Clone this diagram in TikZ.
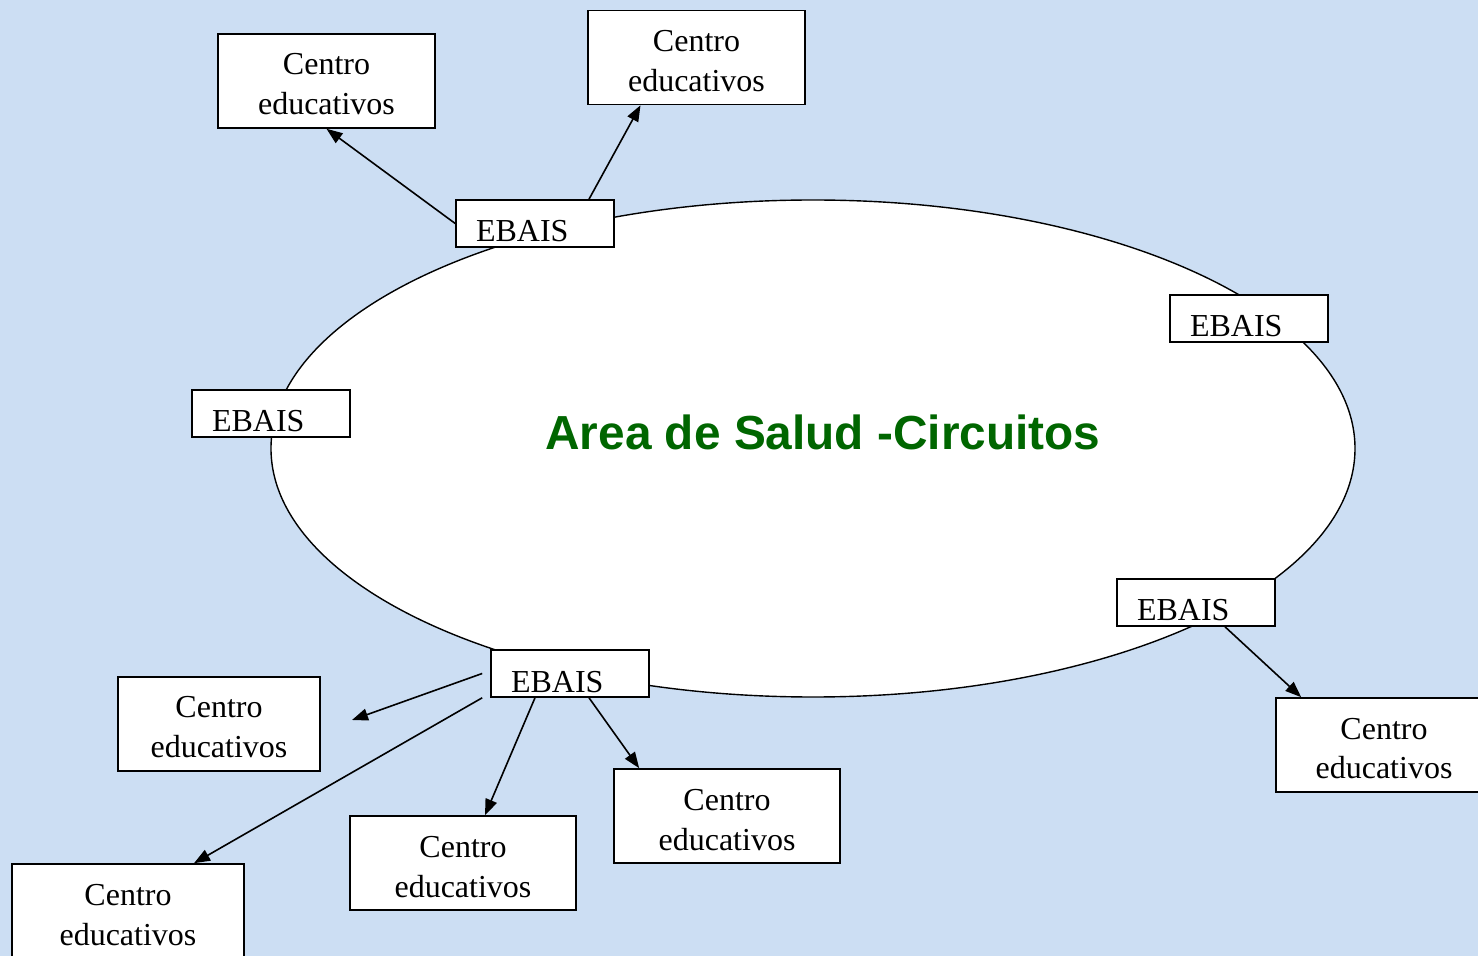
\documentclass[tikz,border=0pt]{standalone}
\usepackage{fontspec}
\setmainfont{Liberation Serif}
\newfontfamily\titlefont{Liberation Sans}
\usetikzlibrary{arrows.meta}
\definecolor{bgblue}{RGB}{204,222,243}
\definecolor{areagreen}{RGB}{0,102,0}

\tikzset{
    centro/.style={draw, thick, fill=white, text width=#1, align=center,
        inner xsep=0pt, inner ysep=0pt, text height=20.5pt, text depth=26.5pt,
        font=\fontsize{16}{20}\selectfont},
    ebais/.style={draw, thick, fill=white, text width=59pt, align=left,
        inner xsep=10pt, inner ysep=0pt, text height=21pt, text depth=2.5pt,
        font=\fontsize{16}{19.5}\selectfont},
    arr/.style={thick, -{Triangle[length=8pt,width=6pt]}},
}

\begin{document}
\begin{tikzpicture}[x=0.5pt, y=-0.5pt]
    \useasboundingbox (0,0) rectangle (1478,956);
    \clip (0,0) rectangle (1478,956);
    \fill[bgblue] (0,0) rectangle (1478,956);

    % area
    \draw[fill=white, line width=0.7pt] (813,448.5) ellipse [x radius=271pt, y radius=124.25pt];
    \node[text=areagreen, font=\titlefont\bfseries\fontsize{23.9}{28}\selectfont] (area) at (823,432) {Area de Salud -Circuitos};

    % EBAIS
    \node[ebais] (ebN)  at (535,223.5)  {EBAIS};
    \node[ebais] (ebNE) at (1249,318.5) {EBAIS};
    \node[ebais] (ebW)  at (271,413.5)  {EBAIS};
    \node[ebais] (ebSE) at (1196,602.5) {EBAIS};
    \node[ebais] (ebS)  at (570,673.5)  {EBAIS};

    % centros
    \node[centro=108.5pt] (ceTL) at (326.5,81)   {Centro\\educativos};
    \node[centro=108.5pt] (ceT)  at (696.5,57.5) {Centro\\educativos};
    \node[centro=101pt]   (ceL)  at (219,724)    {Centro\\educativos};
    \node[centro=116pt]   (ceBL) at (128,911)    {Centro\\educativos};
    \node[centro=113pt]   (ceB)  at (463,863)    {Centro\\educativos};
    \node[centro=113pt]   (ceBR) at (727,816)    {Centro\\educativos};
    \node[centro=108pt]   (ceR)  at (1384,745)   {Centro\\educativos};

    \coordinate (loose) at (352,720);

    \draw[arr] (ebN.west) -- (ceTL.south);
    \draw[arr] ([xshift=27pt]ebN.north) -- ([xshift=-28pt]ceT.south);
    \draw[arr] ([xshift=14.5pt]ebSE.south) -- ([xshift=13pt]ceR.north west);
    \draw[arr] ([xshift=-4pt]ebS.west) -- (loose);
    \draw[arr] ([xshift=-4pt]ebS.south west) -- ([xshift=33pt]ceBL.north);
    \draw[arr] ([xshift=-17.5pt]ebS.south) -- ([xshift=11pt]ceB.north);
    \draw[arr] ([xshift=9.5pt]ebS.south) -- ([xshift=13pt]ceBR.north west);
\end{tikzpicture}
\end{document}
